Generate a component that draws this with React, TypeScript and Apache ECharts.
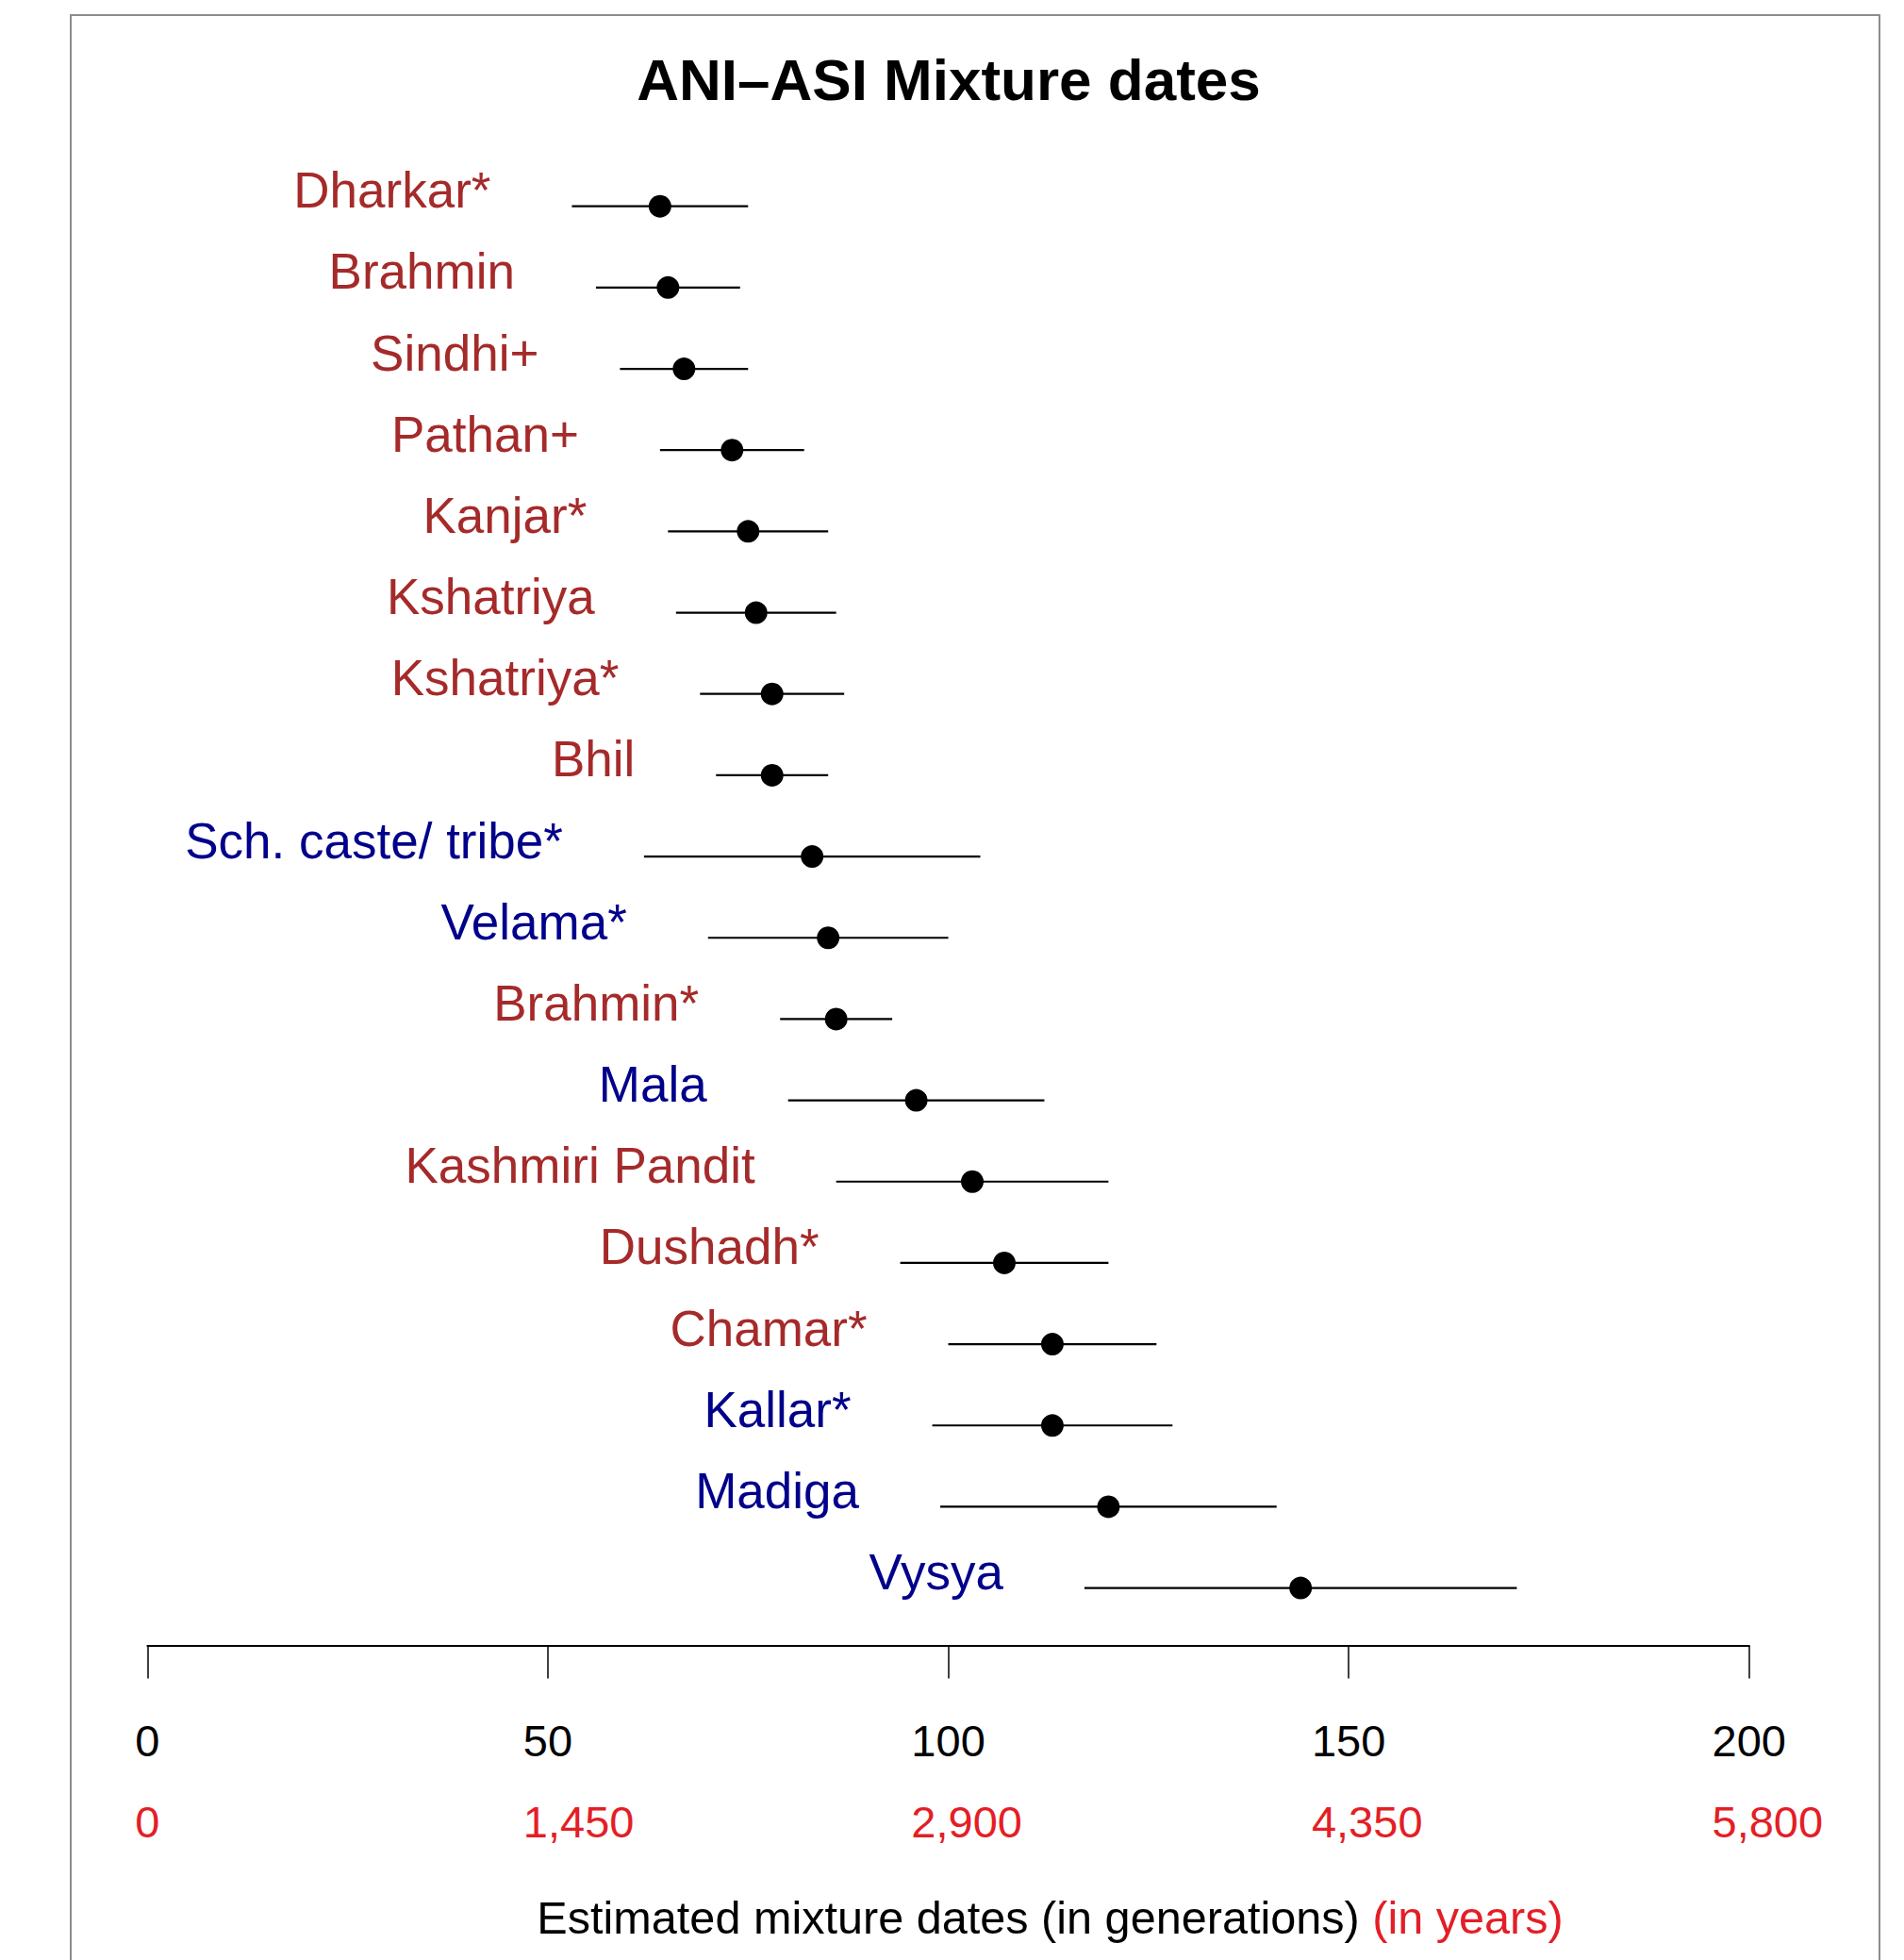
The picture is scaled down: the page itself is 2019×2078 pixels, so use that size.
import React, { useEffect, useRef } from 'react';
import * as echarts from 'echarts';

// ---- Data ----
const categories = [
  'Dharkar*', 'Brahmin', 'Sindhi+', 'Pathan+', 'Kanjar*', 'Kshatriya', 'Kshatriya*', 'Bhil',
  'Sch. caste/ tribe*', 'Velama*', 'Brahmin*', 'Mala', 'Kashmiri Pandit', 'Dushadh*',
  'Chamar*', 'Kallar*', 'Madiga', 'Vysya',
];
const estimates = [64, 65, 67, 73, 75, 76, 78, 78, 83, 85, 86, 96, 103, 107, 113, 113, 120, 144];
const lowerCI = [53, 56, 59, 64, 65, 66, 69, 71, 62, 70, 79, 80, 86, 94, 100, 98, 99, 117];
const upperCI = [75, 74, 75, 82, 85, 86, 87, 85, 104, 100, 93, 112, 120, 120, 126, 128, 141, 171];
const regions = ['N', 'N', 'N', 'N', 'N', 'N', 'N', 'N', 'S', 'S', 'N', 'S', 'N', 'N', 'N', 'S', 'S', 'S'];
const xTicks = [0, 50, 100, 150, 200];
const genTickLabels = ['0', '50', '100', '150', '200'];
const yearTickLabels = ['0', '1,450', '2,900', '4,350', '5,800'];
const titleText = 'ANI\u2013ASI Mixture dates';
const xTitleGen = 'Estimated mixture dates (in generations)';
const xTitleYears = '(in years)';

// ---- Styles ----
const FONT = "'Liberation Sans', Arial, Helvetica, sans-serif";
const REGION_COLORS: Record<string, string> = { N: '#a52a2a', S: '#00008b' };
const RED = '#e41e26';
const TICK_FS = 47;
const NAME_FS = 48.6;
const LABEL_FS = 53;
const GRID = { left: 156.4, right: 164.3, top: 175.6, bottom: 351.3 };
const CHART_W = 2019;
const CHART_H = 2078;

function textWidth(s: string, size: number, weight = 'normal'): number {
  const ctx = document.createElement('canvas').getContext('2d');
  if (!ctx) return s.length * size * 0.55;
  ctx.font = `${weight} ${size}px 'Liberation Sans'`;
  return ctx.measureText(s).width;
}

export default function App() {
  const ref = useRef<HTMLDivElement>(null);

  useEffect(() => {
    document.body.style.margin = '0';
    document.body.style.overflow = 'hidden';
    if (!ref.current) return;
    const chart = echarts.init(ref.current, null, { renderer: 'svg' });

    const yearRich: Record<string, any> = {};
    xTicks.forEach((_, i) => {
      const pad = Math.max(0, textWidth(yearTickLabels[i], TICK_FS) - textWidth(genTickLabels[i], TICK_FS));
      yearRich['y' + i] = {
        color: RED,
        fontSize: TICK_FS,
        fontFamily: FONT,
        padding: [0, 0, 0, pad],
      };
    });
    const yearsPart = ' ' + xTitleYears;
    const yearsW = textWidth(yearsPart, NAME_FS);
    const axisMid = GRID.left + (CHART_W - GRID.left - GRID.right) / 2;

    const option: any = {
      animation: false,
      backgroundColor: '#ffffff',
      title: {
        text: titleText,
        left: 1006,
        top: 53,
        textAlign: 'center',
        padding: 0,
        textStyle: { fontSize: 62, fontWeight: 'bold', fontFamily: FONT, color: '#000' },
      },
      graphic: [
        {
          type: 'rect',
          shape: { x: 75, y: 16, width: 1918, height: 2200 },
          style: { fill: 'none', stroke: '#8c8c8c', lineWidth: 2 },
          silent: true,
        },
        {
          type: 'text',
          x: axisMid,
          y: 2033,
          silent: true,
          style: {
            text: `{g|${xTitleGen}}{r|${yearsPart}}`,
            align: 'center',
            verticalAlign: 'middle',
            rich: {
              g: { fill: '#000', fontSize: NAME_FS, fontFamily: FONT, padding: [0, 0, 0, yearsW] },
              r: { fill: RED, fontSize: NAME_FS, fontFamily: FONT },
            },
          },
        },
      ],
      grid: GRID,
      xAxis: [
        {
          type: 'value',
          min: 0,
          max: 200,
          interval: 50,
          position: 'bottom',
          offset: 17.9,
          splitLine: { show: false },
          axisLine: { show: true, lineStyle: { color: '#000', width: 2 } },
          axisTick: { show: true, length: 35, lineStyle: { color: '#000', width: 1.5 } },
          axisLabel: {
            show: true,
            margin: 77,
            color: '#000',
            fontSize: TICK_FS,
            fontFamily: FONT,
            formatter: (v: number) => genTickLabels[xTicks.indexOf(v)] ?? '',
          },
        },
        {
          type: 'value',
          min: 0,
          max: 200,
          interval: 50,
          position: 'bottom',
          offset: 104.7,
          splitLine: { show: false },
          axisLine: { show: false },
          axisTick: { show: false },
          axisLabel: {
            show: true,
            margin: 77,
            formatter: (v: number) => {
              const i = xTicks.indexOf(v);
              return i < 0 ? '' : `{y${i}|${yearTickLabels[i]}}`;
            },
            rich: yearRich,
          },
        },
      ],
      yAxis: {
        type: 'category',
        data: categories,
        inverse: true,
        show: false,
      },
      series: [
        {
          type: 'custom',
          xAxisIndex: 0,
          clip: false,
          data: categories.map((_, i) => [lowerCI[i], upperCI[i], estimates[i], i]),
          encode: { x: [0, 1, 2], y: 3 },
          renderItem: (params: any, api: any) => {
            const i = params.dataIndex;
            const row = api.value(3);
            const lo = api.coord([api.value(0), row]);
            const hi = api.coord([api.value(1), row]);
            const mid = api.coord([api.value(2), row]);
            return {
              type: 'group',
              children: [
                {
                  type: 'line',
                  shape: { x1: lo[0], y1: lo[1], x2: hi[0], y2: hi[1] },
                  style: { stroke: '#000', lineWidth: 2.2 },
                },
                {
                  type: 'circle',
                  shape: { cx: mid[0], cy: mid[1], r: 12 },
                  style: { fill: '#000' },
                },
                {
                  type: 'text',
                  x: lo[0] - 86,
                  y: lo[1] - 17,
                  style: {
                    text: categories[i],
                    fill: REGION_COLORS[regions[i]],
                    fontSize: LABEL_FS,
                    fontFamily: FONT,
                    align: 'right',
                    verticalAlign: 'middle',
                  },
                },
              ],
            };
          },
        },
      ],
    };

    chart.setOption(option);
    return () => chart.dispose();
  }, []);

  return <div ref={ref} style={{ width: CHART_W, height: CHART_H }} />;
}
